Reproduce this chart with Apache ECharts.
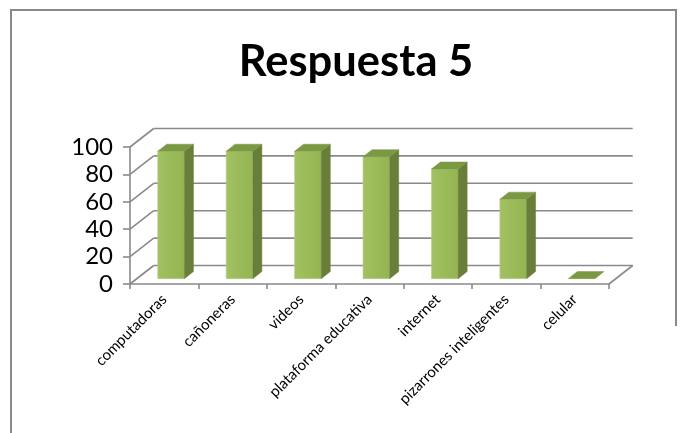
<!DOCTYPE html>
<html>
<head>
<meta charset="utf-8">
<script src="https://cdn.jsdelivr.net/npm/echarts@6/dist/echarts.min.js"></script>
<style>
  html, body { margin: 0; padding: 0; background: #ffffff; }
  #chart { width: 689px; height: 433px; }
</style>
</head>
<body>
<div id="chart"></div>
<script>
// Categories and values of the column chart
const categories = ['computadoras', 'cañoneras', 'videos', 'plataforma educativa', 'internet', 'pizarrones inteligentes', 'celular'];
const values = [93, 93, 93, 89, 80, 58, 0];
const yTicks = [0, 20, 40, 60, 80, 100];
const titleText = 'Respuesta 5';

// Pseudo-3D depth: offset of the back wall relative to the front plane
const DX = 23.7, DY = -18.5;
// Bar placement inside the depth (fractions of full depth) and width (fraction of band)
const BAR_FRONT = 0.29, BAR_DEPTH = 0.38, BAR_WIDTH = 0.39;

const GRID_COLOR = '#8a8a8a';
const FONT = 'Lato, "Open Sans", sans-serif';

const chart = echarts.init(document.getElementById('chart'), null, { renderer: 'canvas' });

function wallItem(params, api) {
  const v = api.value(1);
  const w = api.size([1, 0])[0];
  const p0 = api.coord([0, v]);
  const pn = api.coord([categories.length - 1, v]);
  const left = p0[0] - w / 2;
  const right = pn[0] + w / 2;
  const y = p0[1];
  const style = { stroke: GRID_COLOR, lineWidth: 1.6, fill: null };
  const children = [
    { type: 'line', shape: { x1: left, y1: y, x2: left + DX, y2: y + DY }, style },
    { type: 'line', shape: { x1: left + DX, y1: y + DY, x2: right + DX, y2: y + DY }, style }
  ];
  if (v === 0) {
    children.push({ type: 'line', shape: { x1: right, y1: y, x2: right + DX, y2: y + DY }, style });
  }
  return { type: 'group', children };
}

function barItem(params, api) {
  const i = api.value(0);
  const v = api.value(1);
  const w = api.size([1, 0])[0];
  const base = api.coord([i, 0]);
  const top = api.coord([i, v]);
  const ox = BAR_FRONT * DX, oy = BAR_FRONT * DY;
  const dx = BAR_DEPTH * DX, dy = BAR_DEPTH * DY;
  const x0 = base[0] - BAR_WIDTH * w / 2 + ox;
  const x1 = base[0] + BAR_WIDTH * w / 2 + ox;
  const yb = base[1] + oy;
  const yt = top[1] + oy;
  const children = [];
  if (yb - yt > 0.5) {
    children.push({
      type: 'rect', shape: { x: x0, y: yt, width: x1 - x0, height: yb - yt },
      style: {
        fill: new echarts.graphic.LinearGradient(0, 0, 1, 0, [
          { offset: 0, color: '#a2c163' }, { offset: 0.5, color: '#9bbb59' }, { offset: 1, color: '#94b352' }
        ]),
        stroke: '#b5d083', lineWidth: 0.6
      }
    });
    children.push({
      type: 'polygon',
      shape: { points: [[x1, yt], [x1 + dx, yt + dy], [x1 + dx, yb + dy], [x1, yb]] },
      style: { fill: '#687e39', stroke: '#687e39', lineWidth: 0.5 }
    });
  }
  children.push({
    type: 'polygon',
    shape: { points: [[x0, yt], [x1, yt], [x1 + dx, yt + dy], [x0 + dx, yt + dy]] },
    style: { fill: '#7b9843', stroke: '#7b9843', lineWidth: 0.5 }
  });
  return { type: 'group', children };
}

const option = {
  backgroundColor: '#ffffff',
  animation: false,
  grid: { left: 130, right: 80, top: 147, bottom: 149 },
  xAxis: {
    type: 'category',
    data: categories,
    boundaryGap: true,
    axisLine: { show: true, lineStyle: { color: GRID_COLOR, width: 1.6 } },
    axisTick: { show: true, alignWithLabel: false, length: 5, lineStyle: { color: GRID_COLOR, width: 1.6 } },
    axisLabel: {
      interval: 0, rotate: 45, margin: 13,
      fontFamily: FONT, fontSize: 15, color: '#000000'
    },
    splitLine: { show: false }
  },
  yAxis: {
    type: 'value',
    min: 0, max: 100, interval: 20,
    axisLine: { show: true, lineStyle: { color: GRID_COLOR, width: 1.6 } },
    axisTick: { show: true, length: 7, lineStyle: { color: GRID_COLOR, width: 1.6 } },
    axisLabel: { margin: 17, fontFamily: FONT, fontSize: 24, color: '#000000' },
    splitLine: { show: false }
  },
  series: [
    {
      type: 'custom',
      name: 'walls',
      clip: false,
      z: 1,
      encode: { x: 0, y: 1 },
      data: yTicks.map(v => [0, v]),
      renderItem: wallItem,
      silent: true
    },
    {
      type: 'custom',
      name: 'Respuesta 5',
      clip: false,
      z: 3,
      encode: { x: 0, y: 1 },
      data: values.map((v, i) => [i, v]),
      renderItem: barItem
    }
  ],
  graphic: [
    {
      type: 'text', x: 356, y: 62, z: 10,
      style: {
        text: titleText, fontFamily: FONT, fontWeight: 'bold', fontSize: 43.5,
        fill: '#000000', align: 'center', verticalAlign: 'middle'
      }
    },
    {
      type: 'polyline', z: 10, silent: true,
      shape: { points: [[11, 433], [11, 10], [676, 10], [676, 326]] },
      style: { stroke: '#898989', lineWidth: 2, fill: null }
    }
  ]
};

chart.setOption(option);
</script>
</body>
</html>
